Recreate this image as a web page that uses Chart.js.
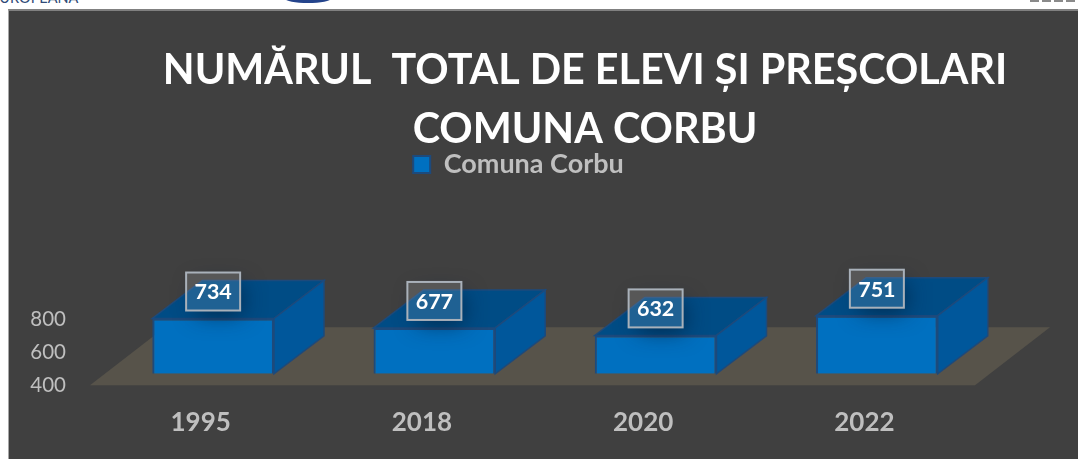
<!DOCTYPE html>
<html>
<head>
<meta charset="utf-8">
<title>Numarul total de elevi si prescolari</title>
<script src="https://cdn.jsdelivr.net/npm/chart.js@4"></script>
<style>
    html, body { margin: 0; padding: 0; background: #fff; overflow: hidden; }
    #page { position: relative; width: 1078px; height: 459px; overflow: hidden; }
    .panel { position: absolute; left: 8px; top: 9px; right: 0; bottom: 0; background: #404040; border-top: 2px solid #808080; border-left: 1px solid #a6a6a6; }
    .header-text { position: absolute; left: -9px; top: -11px; font: 14.5px Lato, sans-serif; color: #2f4a78; }
    .header-logo { position: absolute; left: 285px; top: -6px; width: 46px; height: 9px; border-radius: 50%; background: #24448c; }
    .header-right { position: absolute; left: 1030px; top: 0; width: 48px; height: 2px; background: repeating-linear-gradient(90deg, #8a8a8a 0 9px, #fff 9px 12px); }
    canvas { position: absolute; left: 0; top: 0; }
</style>
</head>
<body>
<div id="page">
    <div class="header-text">EUROPEANA</div>
    <div class="header-logo"></div>
    <div class="header-right"></div>
    <div class="panel"></div>
    <canvas id="elevChart" width="1078" height="459"></canvas>
</div>
<script>
    // Data
    const categories = ['1995', '2018', '2020', '2022'];
    const seriesName = 'Comuna Corbu';
    const seriesValues = [734, 677, 632, 751];
    const yTicks = [400, 600, 800];
    const titleLines = ['NUMĂRUL  TOTAL DE ELEVI ȘI PREȘCOLARI', 'COMUNA CORBU'];

    const FONT = 'Lato, sans-serif';

    // Fake 3D depth, in pixels
    const floorDepth = { x: 75, y: 58 };
    const barDepth = { x: 50, y: 38 };
    const barShift = { x: 12.5, y: 11.5 };

    const fake3d = {
        id: 'fake3d',
        afterLayout(chart) {
            // Title and legend are not centred on the same axis in the original
            const title = chart.titleBlock;
            title.left += 97.5;
            title.right += 97.5;
            const legend = chart.legend;
            legend.left += 31;
            legend.right += 31;
            legend.top -= 8;
            legend.bottom -= 8;
        },
        beforeDatasetsDraw(chart) {
            const ctx = chart.ctx;
            const area = chart.chartArea;
            const floorY = chart.scales.y.getPixelForValue(yTicks[0]);

            // Floor
            ctx.fillStyle = '#57534a';
            ctx.beginPath();
            ctx.moveTo(area.left, floorY);
            ctx.lineTo(area.right, floorY);
            ctx.lineTo(area.right + floorDepth.x, floorY - floorDepth.y);
            ctx.lineTo(area.left + floorDepth.x, floorY - floorDepth.y);
            ctx.closePath();
            ctx.fill();

            ctx.save();
            ctx.translate(barShift.x, -barShift.y);

            // Top and side faces of each bar
            ctx.lineWidth = 1.5;
            ctx.strokeStyle = '#1d4a7c';
            chart.getDatasetMeta(0).data.forEach(function(bar) {
                const left = bar.x - bar.width / 2;
                const right = bar.x + bar.width / 2;

                ctx.fillStyle = '#004c85';
                ctx.beginPath();
                ctx.moveTo(left, bar.y);
                ctx.lineTo(right, bar.y);
                ctx.lineTo(right + barDepth.x, bar.y - barDepth.y);
                ctx.lineTo(left + barDepth.x, bar.y - barDepth.y);
                ctx.closePath();
                ctx.fill();
                ctx.stroke();

                ctx.fillStyle = '#00579b';
                ctx.beginPath();
                ctx.moveTo(right, bar.y);
                ctx.lineTo(right + barDepth.x, bar.y - barDepth.y);
                ctx.lineTo(right + barDepth.x, bar.base - barDepth.y);
                ctx.lineTo(right, bar.base);
                ctx.closePath();
                ctx.fill();
                ctx.stroke();
            });
        },
        afterDatasetsDraw(chart) {
            const ctx = chart.ctx;
            const boxW = 54;
            const boxH = 38;

            // Value labels in a see-through box, floating over the top face
            chart.getDatasetMeta(0).data.forEach(function(bar, i) {
                const left = bar.x - boxW / 2;
                const top = bar.y - 27 - boxH / 2;

                // Soft shadow, only outside of the box
                ctx.save();
                ctx.beginPath();
                ctx.rect(0, 0, chart.width, chart.height);
                ctx.rect(left, top, boxW, boxH);
                ctx.clip('evenodd');
                ctx.shadowColor = 'rgba(0, 30, 60, 0.7)';
                ctx.shadowBlur = 22;
                ctx.shadowOffsetY = 8;
                ctx.shadowOffsetX = 6;
                ctx.fillStyle = '#000';
                ctx.fillRect(left + 4, top + 4, boxW - 8, boxH - 8);
                ctx.restore();

                ctx.fillStyle = 'rgba(255, 255, 255, 0.12)';
                ctx.fillRect(left, top, boxW, boxH);
                ctx.strokeStyle = '#a9b1ba';
                ctx.lineWidth = 2;
                ctx.strokeRect(left, top, boxW, boxH);

                ctx.fillStyle = '#ffffff';
                ctx.font = 'bold 21.5px ' + FONT;
                ctx.textAlign = 'center';
                ctx.textBaseline = 'middle';
                ctx.fillText(seriesValues[i], bar.x, top + boxH / 2 + 1);
            });

            ctx.restore();
        }
    };

    const ctx = document.getElementById('elevChart').getContext('2d');
    const elevChart = new Chart(ctx, {
        type: 'bar',
        data: {
            labels: categories,
            datasets: [{
                label: seriesName,
                data: seriesValues,
                base: yTicks[0],
                backgroundColor: '#0070c0',
                borderColor: '#1d4a7c',
                borderWidth: 2,
                barPercentage: 0.55,
                categoryPercentage: 1
            }]
        },
        options: {
            responsive: false,
            animation: false,
            layout: { padding: { left: 0, right: 103, top: 41, bottom: -1.5 } },
            plugins: {
                tooltip: { enabled: false },
                title: {
                    display: true,
                    text: titleLines,
                    color: '#ffffff',
                    font: { family: FONT, size: 41.3, weight: 'bold', lineHeight: 1.43 },
                    padding: { top: 0, bottom: 0 }
                },
                legend: {
                    display: true,
                    labels: {
                        color: '#bfbfbf',
                        font: { family: FONT, size: 27, weight: 'bold' },
                        boxWidth: 17,
                        boxHeight: 17,
                        padding: 0
                    }
                }
            },
            scales: {
                x: {
                    grid: { display: false, drawTicks: false },
                    border: { display: false },
                    ticks: { color: '#bfbfbf', font: { family: FONT, size: 26, weight: 'bold' }, padding: 22 }
                },
                y: {
                    min: 400,
                    max: 1543,
                    afterBuildTicks: function(scale) {
                        scale.ticks = yTicks.map(function(v) { return { value: v }; });
                    },
                    afterFit: function(scale) { scale.width = 90; },
                    grid: { display: false, drawTicks: false },
                    border: { display: false },
                    ticks: { color: '#bfbfbf', font: { family: FONT, size: 20.5 }, padding: 24 }
                }
            }
        },
        plugins: [fake3d]
    });
</script>
</body>
</html>
